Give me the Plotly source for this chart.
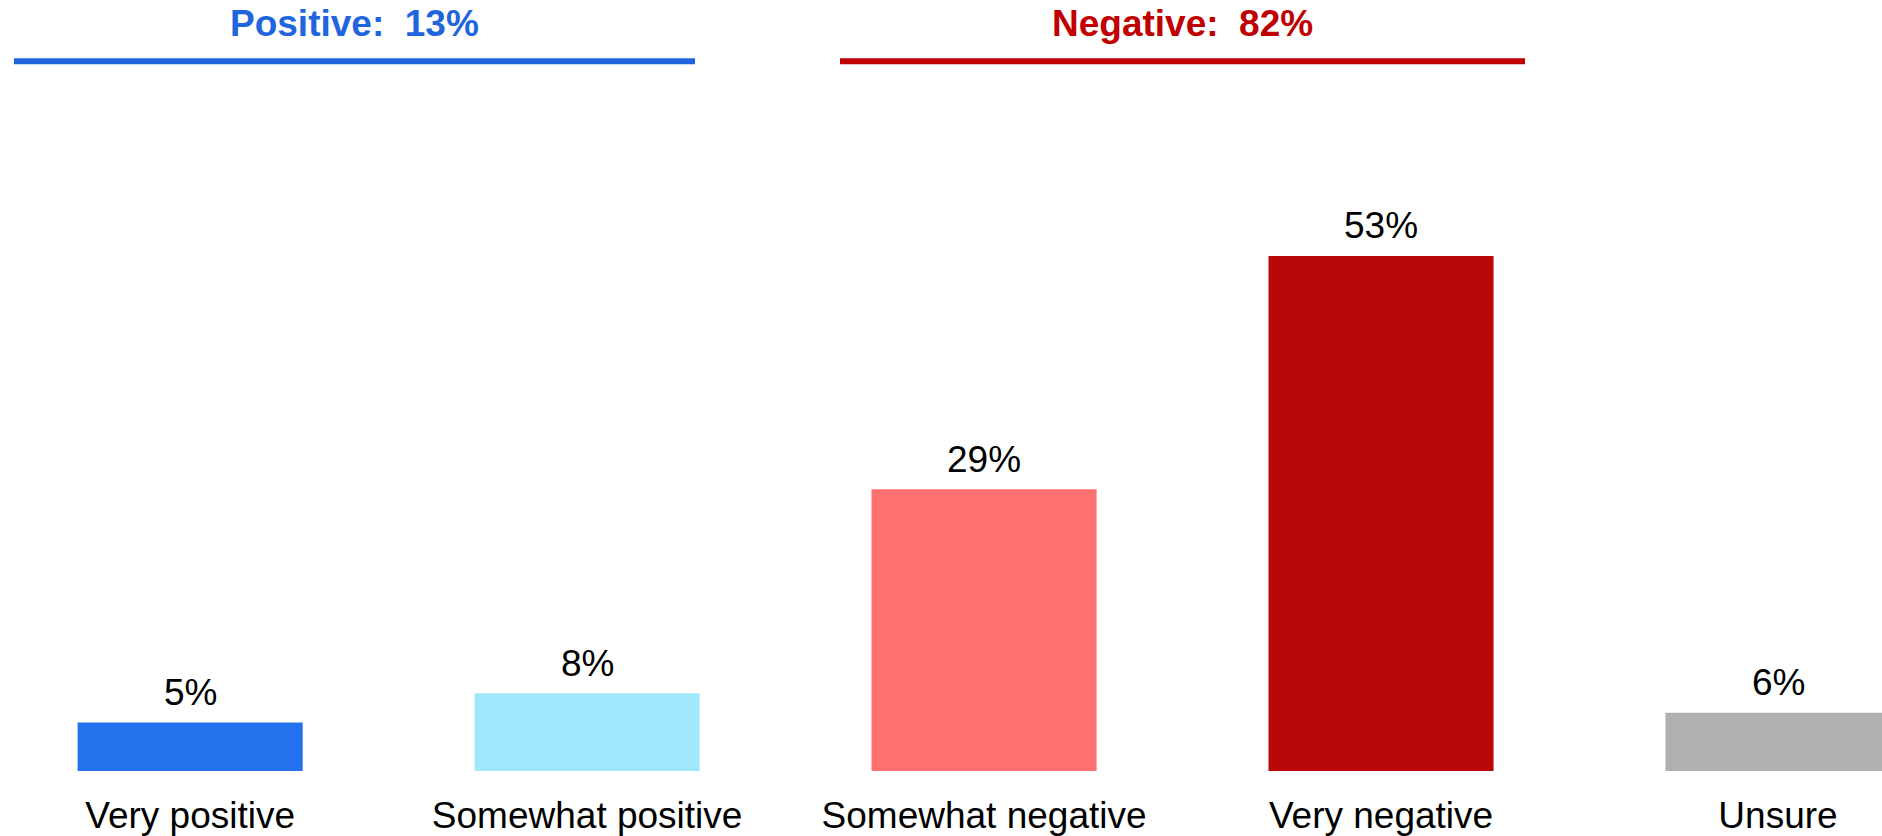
import plotly.graph_objects as go

categories = ["Very positive", "Somewhat positive", "Somewhat negative", "Very negative", "Unsure"]
values = [5, 8, 29, 53, 6]
value_labels = ["5%", "8%", "29%", "53%", "6%"]
bar_colors = ["#2371EC", "#A0E8FC", "#FF7070", "#B80808", "#B0B0B0"]

group_titles = ["Positive:  13%", "Negative:  82%"]
group_colors = ["#1F66DE", "#C00000"]

W, H = 1882, 836
MT, MB = 100, 59
PH = H - MT - MB
FONT = "Liberation Sans, Arial, sans-serif"
FS = 37


def py(pixel_y):
    return (H - MB - pixel_y) / PH


fig = go.Figure()
fig.add_trace(go.Bar(
    x=categories,
    y=values,
    marker=dict(color=bar_colors, line=dict(width=0)),
    hoverinfo="skip",
))

for c, v, lab in zip(categories, values, value_labels):
    fig.add_annotation(x=c, y=v, xref="x", yref="y", text=lab, showarrow=False,
                       yanchor="middle", yshift=30,
                       font=dict(family=FONT, size=FS, color="#000000"))

# group header lines and titles (paper-pixel placements)
header_spans = [(14, 695), (840, 1525)]
for (x0, x1), t, col in zip(header_spans, group_titles, group_colors):
    fig.add_shape(type="line", xref="paper", yref="paper",
                  x0=x0 / W, x1=x1 / W, y0=py(61), y1=py(61),
                  line=dict(color=col, width=6))
    fig.add_annotation(xref="paper", yref="paper", x=(x0 + x1) / 2 / W, y=py(23),
                       text="<b>" + t + "</b>", showarrow=False,
                       xanchor="center", yanchor="middle",
                       font=dict(family=FONT, size=FS, color=col))

fig.update_layout(
    width=W, height=H,
    margin=dict(l=0, r=0, t=MT, b=MB, pad=0),
    paper_bgcolor="white", plot_bgcolor="white",
    bargap=0.433,
    showlegend=False,
    font=dict(family=FONT, size=FS, color="#000000"),
    xaxis=dict(range=[-0.479, 4.262], showgrid=False, zeroline=False, showline=False,
               ticks="", ticklabelstandoff=19,
               tickfont=dict(family=FONT, size=FS, color="#000000")),
    yaxis=dict(range=[0, 69.05], visible=False, showgrid=False, zeroline=False),
)

fig.write_html("out.html", config={"displayModeBar": False},
               post_script="document.body.style.margin='0px';document.body.style.overflow='hidden';")
